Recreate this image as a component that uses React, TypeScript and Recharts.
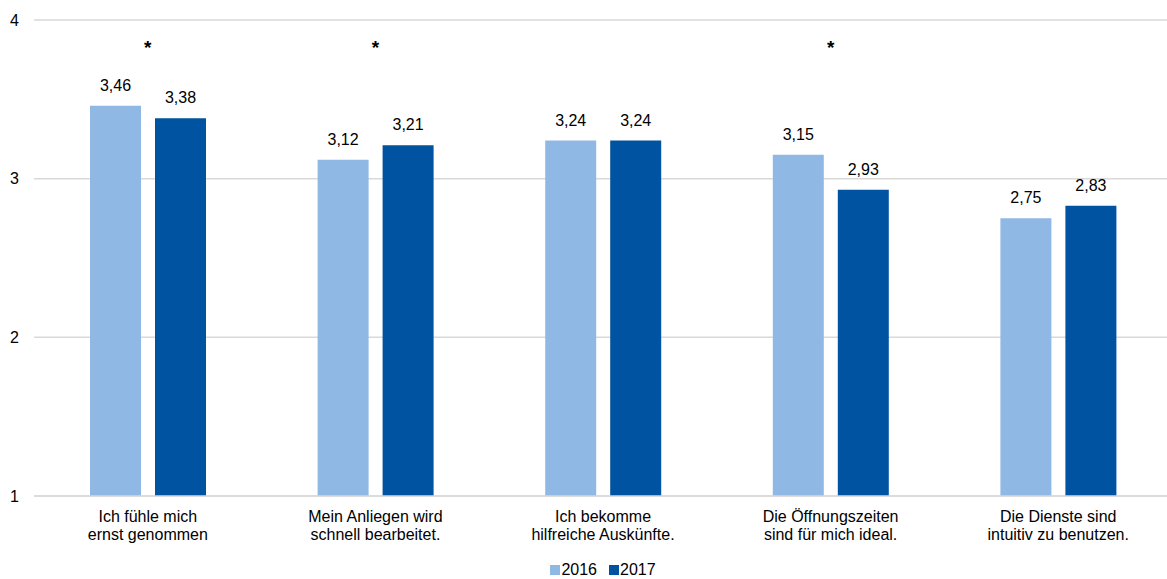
import React from 'react';
import { BarChart, Bar, XAxis, YAxis, CartesianGrid, LabelList, Legend, ReferenceDot } from 'recharts';

const categories = [
  'Ich fühle mich\nernst genommen',
  'Mein Anliegen wird\nschnell bearbeitet.',
  'Ich bekomme\nhilfreiche Auskünfte.',
  'Die Öffnungszeiten\nsind für mich ideal.',
  'Die Dienste sind\nintuitiv zu benutzen.',
];
const values2016 = [3.46, 3.12, 3.24, 3.15, 2.75];
const values2017 = [3.38, 3.21, 3.24, 2.93, 2.83];
const significance = ['*', '*', '', '*', ''];
const yTicks = [1, 2, 3, 4];
const seriesNames = ['2016', '2017'];

const COLORS = ['#8FB9E4', '#0053A0'];
const FONT = '"Liberation Sans", Arial, sans-serif';
const STAR_Y = 3.83;

const data = categories.map((c, i) => ({
  name: c,
  v2016: values2016[i],
  v2017: values2017[i],
}));

const fmt = (v: any) => Number(v).toFixed(2).replace('.', ',');

const CatTick = (props: any) => {
  const { x, y, payload } = props;
  const lines = String(payload.value).split('\n');
  return (
    <g transform={`translate(${x},${y})`}>
      {lines.map((l: string, i: number) => (
        <text key={i} x={0} y={18 + i * 18} textAnchor="middle" fill="#000" fontSize={16} fontFamily={FONT}>
          {l}
        </text>
      ))}
    </g>
  );
};

const LegendContent = () => (
  <div style={{ display: 'flex', justifyContent: 'center', alignItems: 'center', height: 23, paddingTop: 4, boxSizing: 'border-box', fontFamily: FONT, fontSize: 16, color: '#000' }}>
    {seriesNames.map((n, i) => (
      <div key={n} style={{ display: 'flex', alignItems: 'center', marginLeft: i ? 12 : 0 }}>
        <span style={{ display: 'inline-block', width: 10, height: 10, background: COLORS[i], marginRight: 1 }} />
        <span>{n}</span>
      </div>
    ))}
  </div>
);

export default function App() {
  return (
    <div style={{ position: 'absolute', left: 0, top: 0, width: 1167, height: 579, overflow: 'hidden', background: '#fff' }}>
      <BarChart width={1172} height={579} data={data} margin={{ top: 20, right: 0, bottom: 0, left: 0 }} barSize={51} barGap={14}>
        <CartesianGrid horizontal vertical={false} stroke="#D9D9D9" strokeWidth={1.5} />
        <XAxis dataKey="name" tick={<CatTick />} tickLine={false} axisLine={{ stroke: '#D9D9D9', strokeWidth: 1.5 }} height={60} interval={0} />
        <YAxis domain={[1, 4]} ticks={yTicks} width={34} tickLine={false} axisLine={false} tickMargin={9}
          tick={{ fill: '#000', fontSize: 16, fontFamily: FONT }} />
        <Legend content={<LegendContent />} verticalAlign="bottom" wrapperStyle={{ left: 34, width: 1138, height: 23, bottom: 0 }} />
        <Bar dataKey="v2016" name={seriesNames[0]} fill={COLORS[0]} isAnimationActive={false}>
          <LabelList dataKey="v2016" position="top" offset={15} formatter={fmt} fill="#000" fontSize={16} fontFamily={FONT} />
        </Bar>
        <Bar dataKey="v2017" name={seriesNames[1]} fill={COLORS[1]} isAnimationActive={false}>
          <LabelList dataKey="v2017" position="top" offset={15} formatter={fmt} fill="#000" fontSize={16} fontFamily={FONT} />
        </Bar>
        {categories.map((c, i) =>
          significance[i] ? (
            <ReferenceDot key={c} x={c} y={STAR_Y} r={0} stroke="none" fill="none"
              label={{ value: significance[i], position: 'center', fill: '#000', fontSize: 19, fontWeight: 'bold', fontFamily: FONT }} />
          ) : null
        )}
      </BarChart>
    </div>
  );
}
